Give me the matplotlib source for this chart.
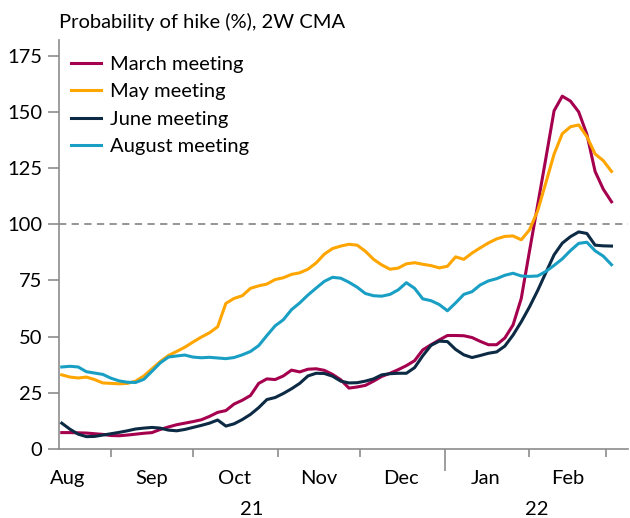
import numpy as np
import pandas as pd
import matplotlib
matplotlib.use("Agg")
import matplotlib.pyplot as plt
import matplotlib.dates as mdates
import matplotlib.transforms as mtransforms

plt.rcParams['font.family'] = ['Lato', 'DejaVu Sans']

# fechas cada 3 dias, 14-ago-2021 a 3-mar-2022
dates = pd.date_range("2021-08-14", periods=68, freq="3D")

march = [7.3, 7.3, 7.2, 7.1, 6.8, 6.5, 6.0, 5.9, 6.2, 6.6,
         7.0, 7.3, 8.7, 9.8, 10.8, 11.5, 12.2, 13.0, 14.5, 16.3,
         17.1, 20.0, 21.7, 23.8, 29.2, 31.2, 30.9, 32.5, 35.1, 34.3,
         35.5, 35.7, 35.0, 33.2, 30.8, 27.1, 27.6, 28.3, 30.2, 32.3,
         33.7, 35.3, 37.1, 39.3, 44.1, 46.4, 48.5, 50.5, 50.5, 50.4,
         49.6, 47.9, 46.4, 46.4, 49.4, 55.2, 67.0, 88.0, 108.6, 129.4,
         150.5, 157.0, 154.8, 150.0, 140.0, 123.5, 115.6, 110.0]

may = [33.0, 32.0, 31.6, 32.0, 30.9, 29.4, 29.2, 29.0, 29.2, 30.2,
       32.5, 35.7, 38.9, 41.6, 43.4, 45.3, 47.6, 49.8, 51.7, 54.4,
       64.8, 67.0, 68.2, 71.5, 72.6, 73.4, 75.4, 76.2, 77.7, 78.4,
       80.0, 82.8, 86.7, 89.2, 90.3, 91.1, 90.7, 88.0, 84.4, 81.9,
       80.0, 80.5, 82.4, 82.9, 82.2, 81.6, 80.6, 81.3, 85.5, 84.4,
       87.2, 89.5, 91.7, 93.5, 94.6, 94.8, 93.1, 97.5, 106.0, 118.5,
       131.2, 140.3, 143.4, 144.2, 139.0, 131.3, 128.3, 123.5]

june = [11.5, 8.8, 6.6, 5.5, 5.6, 6.2, 6.8, 7.4, 8.1, 8.9,
        9.3, 9.6, 9.3, 8.4, 8.1, 8.7, 9.6, 10.5, 11.5, 12.9,
        10.2, 11.2, 13.1, 15.4, 18.4, 22.0, 22.9, 24.7, 26.8, 29.2,
        32.5, 33.7, 33.6, 32.4, 30.2, 29.4, 29.5, 30.2, 31.2, 33.0,
        33.5, 33.7, 33.7, 36.2, 41.5, 46.1, 48.0, 47.8, 44.3, 41.9,
        40.7, 41.6, 42.6, 43.2, 45.8, 50.7, 56.6, 63.2, 70.5, 78.5,
        86.4, 91.6, 94.5, 96.6, 95.9, 90.7, 90.4, 90.3]

august = [36.5, 36.8, 36.5, 34.4, 33.8, 33.2, 31.5, 30.3, 29.7, 29.6,
          31.0, 34.6, 38.3, 40.9, 41.4, 41.8, 40.9, 40.6, 40.8, 40.5,
          40.2, 40.7, 41.9, 43.4, 46.0, 50.5, 54.8, 57.5, 62.0, 65.0,
          68.5, 71.6, 74.6, 76.4, 76.0, 74.2, 72.0, 69.2, 68.2, 68.0,
          68.8, 70.8, 74.0, 71.5, 66.8, 66.0, 64.3, 61.5, 65.0, 68.8,
          70.0, 73.0, 74.8, 75.8, 77.3, 78.2, 77.0, 76.8, 77.0, 79.0,
          81.7, 84.6, 88.3, 91.5, 92.0, 88.2, 85.8, 82.0]

series = [("March meeting", march, "#A5004E"),
          ("May meeting", may, "#FFA500"),
          ("June meeting", june, "#0C2A44"),
          ("August meeting", august, "#1A9FC4")]

month_starts = pd.to_datetime(["2021-09-01", "2021-10-01", "2021-11-01", "2021-12-01",
                               "2022-01-01", "2022-02-01", "2022-03-01"])
month_mids = pd.to_datetime(["2021-08-16", "2021-09-16", "2021-10-16", "2021-11-16",
                             "2021-12-16", "2022-01-16", "2022-02-15"])
month_labels = ["Aug", "Sep", "Oct", "Nov", "Dec", "Jan", "Feb"]
x_start = pd.Timestamp("2021-08-13")
x_end = pd.Timestamp("2022-03-09")
grey = "#8c8c8c"
fs = 14.5

fig = plt.figure(figsize=(6.3, 5.18), dpi=100)
ax = fig.add_axes([0.0937, 0.1332, 0.903, 0.7896])

ax.axhline(100, color=grey, lw=1.3, ls=(0, (4, 3)), zorder=1)
for name, vals, col in series:
    ax.plot(dates, vals, color=col, lw=2.2, label=name, zorder=3)

ax.set_xlim(x_start, x_end)
ax.set_ylim(0, 182)
ax.set_yticks(np.arange(0, 176, 25))

for s in ["top", "right"]:
    ax.spines[s].set_visible(False)
for s in ["left", "bottom"]:
    ax.spines[s].set_color(grey)
    ax.spines[s].set_linewidth(1.2)

ax.tick_params(axis="y", length=8, width=1.2, color=grey, labelsize=fs, pad=4)
ax.set_xticks(month_starts)
ax.set_xticklabels([""] * len(month_starts))
ax.tick_params(axis="x", which="major", length=6, width=1.2, color=grey)
ax.set_xticks(month_mids, minor=True)
ax.set_xticklabels(month_labels, minor=True)
ax.tick_params(axis="x", which="minor", length=0, labelsize=fs, pad=15)

# marca larga al cambio de año
for tick, d in zip(ax.xaxis.get_major_ticks(), month_starts):
    if d == pd.Timestamp("2022-01-01"):
        tick.tick1line.set_markersize(16)

trans = mtransforms.blended_transform_factory(ax.transData, ax.transAxes)
mid21 = x_start + (pd.Timestamp("2022-01-01") - x_start) / 2
mid22 = pd.Timestamp("2022-01-01") + (x_end - pd.Timestamp("2022-01-01")) / 2
ax.text(mid21, -0.148, "21", transform=trans, ha="center", va="center", fontsize=fs)
ax.text(mid22, -0.148, "22", transform=trans, ha="center", va="center", fontsize=fs)

fig.text(0.0937, 0.958, "Probability of hike (%), 2W CMA", ha="left", va="center", fontsize=fs)

ax.legend(loc="upper left", bbox_to_anchor=(0.0, 0.99), frameon=False, fontsize=fs,
          handlelength=1.5, handletextpad=0.45, labelspacing=0.5, borderaxespad=0.2)

fig.savefig("out.png", dpi=100)
